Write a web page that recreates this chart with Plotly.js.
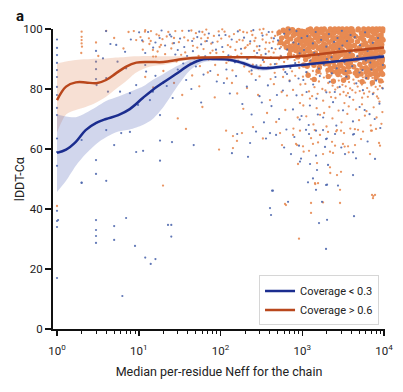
<!DOCTYPE html>
<html>
<head>
<meta charset="utf-8">
<script src="https://cdn.plot.ly/plotly-3.0.1.min.js"></script>
<style>html,body{margin:0;padding:0;background:#fff;}#chart{width:403px;height:392px;}</style>
</head>
<body>
<div id="chart"></div>
<script>
// ---- smoothed trend curves (Neff, lDDT-Ca) ----
const blueCurveNeff = [1, 1.29, 1.7, 2.24, 3.02, 3.98, 5.62, 7.76, 11.2, 14.8, 20, 28.2, 42.7, 61.7, 87.1, 132, 191, 251, 331, 437, 1122, 2884, 10000];
const blueCurveMean = [58.7, 59.8, 62.4, 66.3, 68.7, 70.0, 71.3, 73.3, 77.0, 79.7, 82.2, 84.9, 88.2, 89.9, 90.0, 89.7, 88.6, 87.4, 86.9, 87.1, 88.2, 89.3, 90.8];
const blueCurveLow  = [45.7, 49.4, 54.4, 58.3, 61.7, 63.9, 65.8, 66.5, 68.0, 70.0, 74.0, 80.0, 86.3, 88.9, 89.3, 89.1, 87.9, 86.6, 86.1, 86.5, 87.8, 89.0, 90.3];
const blueCurveHigh = [71.6, 70.8, 70.6, 72.0, 74.0, 76.0, 77.5, 79.0, 80.8, 83.0, 85.0, 87.4, 89.7, 90.6, 90.7, 90.3, 89.3, 88.2, 87.7, 87.7, 88.6, 89.6, 91.3];

const orangeCurveNeff = [1, 1.29, 1.7, 2.24, 3.02, 3.98, 5.25, 6.92, 9.33, 13.8, 20, 34.7, 61.7, 132, 251, 437, 1122, 2884, 10000];
const orangeCurveMean = [76.3, 80.8, 82.2, 82.2, 81.9, 83.0, 85.2, 87.4, 88.8, 89.0, 89.0, 90.0, 90.5, 90.6, 90.6, 90.4, 91.1, 92.4, 93.8];
const orangeCurveLow  = [65.5, 71.5, 73.0, 74.0, 75.5, 77.4, 80.0, 82.5, 85.5, 87.5, 88.0, 89.3, 90.0, 90.2, 90.3, 90.1, 90.8, 92.1, 93.3];
const orangeCurveHigh = [88.5, 89.2, 89.7, 89.9, 90.1, 90.2, 90.5, 90.7, 90.9, 91.0, 90.9, 90.9, 91.0, 91.0, 90.9, 90.7, 91.4, 92.7, 94.3];

// ---- scatter: dense core of coverage > 0.6 chains (Neff, lDDT) ----
const orangeCorePoints = [
[520,98.8],[560,97.0],[585,99.6],[610,99.2],[640,97.5],[655,95.8],[690,98.9],[700,94.2],[720,96.7],[735,99.6],[760,93.5],[780,97.9],[800,95.1],[815,99.0],[830,92.8],[850,96.3],[870,98.4],[880,94.0],[900,99.5],[915,91.9],[930,97.1],[950,95.6],[965,93.2],[980,98.7],[990,96.0],[640,93.8],[700,91.5],[760,99.8],[820,94.6],[880,90.7],[940,92.4],[990,99.3],[720,92.9],[600,95.0],[670,100],[540,95.5],
[1010,97.6],[1030,94.3],[1050,99.1],[1060,91.2],[1080,96.5],[1100,89.8],[1120,98.2],[1140,93.1],[1160,95.7],[1180,99.7],[1200,90.9],[1210,97.3],[1230,92.4],[1250,94.8],[1270,99.0],[1290,88.9],[1300,96.2],[1320,91.7],[1340,98.5],[1360,93.9],[1380,95.3],[1400,90.3],[1420,97.8],[1440,99.4],[1450,92.0],[1470,94.4],[1490,89.5],[1510,96.9],[1530,98.1],[1550,91.1],[1570,93.6],[1590,95.9],[1610,99.2],[1630,88.6],[1650,97.0],[1670,90.6],[1690,94.1],[1710,92.8],[1730,98.8],[1750,96.4],[1770,89.9],[1790,93.3],[1810,99.6],[1830,95.0],[1850,91.4],[1870,97.5],[1890,88.4],[1910,94.7],[1930,92.2],[1950,98.0],[1970,96.6],[1990,90.1],[1040,88.0],[1150,87.6],[1260,100],[1390,87.9],[1500,100],[1620,87.2],[1740,91.9],[1860,100],[1105,95.0],[1225,96.0],[1330,89.2],[1455,97.2],[1580,90.0],[1705,99.9],[1820,89.0],[1960,93.8],[1075,92.6],[1190,93.5],
[2010,97.4],[2040,93.2],[2070,99.1],[2100,88.3],[2130,95.6],[2160,91.0],[2190,97.9],[2220,86.9],[2250,94.1],[2280,99.6],[2310,90.4],[2340,96.3],[2370,92.7],[2400,88.9],[2430,98.6],[2460,94.9],[2490,87.5],[2520,91.8],[2550,96.8],[2580,99.3],[2610,89.6],[2640,93.7],[2670,97.1],[2700,86.5],[2730,95.2],[2760,90.8],[2790,98.9],[2820,92.3],[2850,88.1],[2880,96.0],[2910,99.8],[2940,94.4],[2970,87.8],[3000,91.5],[3040,97.7],[3080,93.0],[3120,89.3],[3160,95.8],[3200,99.0],[3240,86.8],[3280,92.0],[3320,97.3],[3360,90.2],[3400,94.6],[3440,98.3],[3480,88.6],[3520,96.5],[3560,91.3],[3600,99.5],[3640,93.9],[3680,87.3],[3720,95.4],[3760,90.0],[3800,97.6],[3840,92.5],[3880,88.7],[3920,98.8],[3960,94.2],[2060,86.3],[2200,100],[2350,85.8],[2500,100],[2650,85.5],[2800,100],[2950,85.9],[3100,100],[3300,85.4],[3500,100],[3700,85.7],[3900,100],[2120,92.1],[2330,94.0],[2560,90.7],[2770,93.5],[3020,96.9],[3260,95.1],[3460,90.9],[3660,96.2],[3860,89.5],[2420,97.0],[3140,98.1],
[4020,96.1],[4100,91.2],[4180,99.2],[4260,87.4],[4340,94.5],[4420,89.7],[4500,97.5],[4580,92.9],[4660,86.2],[4740,95.8],[4820,99.7],[4900,90.6],[4980,93.8],[5060,88.2],[5140,97.0],[5220,91.9],[5300,98.6],[5380,86.9],[5460,94.7],[5540,90.3],[5620,96.4],[5700,99.1],[5780,88.8],[5860,92.6],[5940,95.3],[6020,87.1],[6100,98.2],[6180,91.6],[6260,94.1],[6340,89.4],[6420,97.8],[6500,86.4],[6580,93.3],[6660,99.5],[6740,90.9],[6820,95.9],[6900,88.0],[6980,92.2],[7060,97.2],[7140,86.7],[7220,94.9],[7300,99.0],[7380,89.1],[7460,91.5],[7540,96.7],[7620,87.8],[7700,93.6],[7780,98.4],[7860,90.4],[7940,95.0],[8020,86.1],[8100,92.8],[8180,99.4],[8260,88.5],[8340,96.0],[8420,91.0],[8500,94.3],[8580,97.4],[8660,87.0],[8740,89.9],[8820,99.8],[8900,93.1],[8980,95.6],[9060,86.6],[9140,91.8],[9220,98.0],[9300,88.3],[9380,94.8],[9460,96.8],[9540,90.1],[9620,99.3],[9700,92.4],[9780,87.5],[4050,100],[4450,85.3],[4850,100],[5250,85.0],[5650,100],[6050,85.6],[6450,100],[6850,84.9],[7250,100],[7650,85.2],[8050,100],[8450,84.7],[8850,100],[9250,85.4],[9650,100],[4300,97.9],[4700,90.0],[5100,93.0],[5500,98.0],[5900,91.0],[6300,99.0],[6700,93.9],[7100,89.6],[7500,98.8],[7900,92.0],[8300,93.7],[8700,97.8],[9100,95.3],[9500,89.4],[9750,96.3],
[1180,84.6],[1560,85.9],[2080,84.2],[2740,84.8],[3580,83.9],[4700,84.5],[6200,84.0],[8000,83.8],[9600,84.9],[1400,83.2],[2400,82.6],[3200,82.9],[5400,82.4],[7200,82.1],[9100,82.7]
];

// ---- scatter: remaining coverage > 0.6 chains ----
const orangePoints = [
[2,99.1],[2,97.4],[2,96.3],[2,95.2],[2.02,94.1],[1.98,92.0],[1,41],[3,95.5],[3.2,91.0],[4,99.4],[5,97.0],[6.5,93.5],[7.5,99.0],[8.7,99.3],[9.3,96.3],
[10.5,97.3],[11.2,93.1],[12,99.6],[13.5,95.0],[15,90.8],[16.5,98.2],[18,94.0],[19.5,96.6],[21,91.6],[23,99.0],[25,93.5],[27,97.0],[29,89.2],[31,95.6],[34,99.4],[37,92.2],[40,96.2],[43,88.5],[46,94.4],[50,98.6],[54,91.0],[58,96.9],[62,93.3],[67,99.8],[72,89.8],[77,95.1],[83,97.7],[89,92.0],[95,99.2],[14,96.0],[22,97.5],[28,99.3],[36,97.2],[44,99.5],[52,93.8],[60,99.0],[70,97.0],[80,92.8],[92,95.8],[99,90.4],[17,92.5],[26,95.2],[33,91.4],[48,90.2],[56,87.6],[65,95.9],[75,92.0],[86,88.0],[47,96.8],[64,98.1],[11.3,95.8],[11.9,99.1],[13.3,96.9],[14.1,99.3],[14.9,93.0],[16.2,90.8],[17.7,97.8],[18.7,94.7],
[12,84.0],[15,80.5],[20,86.0],[27,82.0],[34,78.0],[45,84.5],[55,80.9],[70,85.5],[85,77.2],[30,70.2],[60,74.0],[37.8,66.7],[117,66.1],[142,64.3],[183,65.3],[159,62.7],[96,59.8],[19.8,47.8],
[102,96.8],[108,92.4],[112,99.1],[118,88.7],[123,94.6],[128,97.5],[134,90.9],[140,86.2],[146,98.3],[152,93.0],[158,95.7],[165,89.4],[172,99.6],[180,91.8],[187,96.2],[195,87.5],[203,93.9],[211,98.8],[220,90.2],[229,95.1],[238,99.3],[248,88.1],[258,92.7],[268,97.0],[279,94.2],[290,86.8],[302,99.8],[314,91.3],[327,96.5],[340,89.0],[353,93.4],[367,98.1],[382,87.2],[397,95.4],[413,90.6],[430,99.0],[447,92.1],[465,97.7],[484,88.4],[503,94.9],[523,99.5],[544,91.0],[566,96.0],[589,86.5],[612,93.7],[637,98.5],[662,90.0],[689,95.3],[716,87.7],[745,92.8],[775,97.3],[806,89.6],[838,94.4],[872,99.2],[907,88.9],[943,96.6],[981,91.6],
[105,99.9],[132,94.0],[161,91.0],[190,99.0],[225,85.8],[260,96.0],[298,93.0],[335,100],[375,90.3],[420,97.0],[460,85.4],[500,98.0],[550,94.0],[600,89.0],[650,100],[700,91.5],[750,85.9],[800,99.0],[860,93.2],[920,87.0],[970,97.5],
[125,89.5],[170,96.4],[215,94.6],[265,90.8],[320,98.6],[390,92.5],[440,95.8],[520,89.9],[580,99.7],[625,95.6],[680,97.9],[730,94.8],[790,91.4],[850,96.9],[900,98.2],[960,94.7],[555,97.2],[470,93.3],[410,88.2],[360,95.5],[310,87.9],[245,98.0],[198,93.6],[150,90.5],
[93,84.7],[138,82],[211,80.3],[288,78],[403,76.3],[582,84],[771,79.7],[938,75.3],[371,72],[250,67.3],[535,65.3],[863,61.3],[142,60.3],[120,83.5],[160,78.5],[300,84.2],[450,81.6],[650,77.8],[700,82.9],[880,70.5],[480,69.0],[190,73.4],[620,73.0],[950,81.5],[330,63.5],[780,66.8],[560,79.0],[240,85.0],[410,83.3],[820,84.4],[1000,78.0],
[1020,84.1],[1090,81.7],[1150,85.5],[1210,79.2],[1280,83.3],[1350,86.0],[1410,80.6],[1480,84.8],[1540,78.4],[1600,82.5],[1680,85.1],[1760,80.0],[1840,83.8],[1920,79.5],[2000,85.3],[2080,82.0],[2170,78.9],[2260,84.5],[2350,81.1],[2440,83.0],[2530,79.8],[2620,85.0],[2710,80.5],[2800,82.8],[2900,78.2],[3000,84.2],[3100,81.4],[3200,79.0],[3300,83.6],[3400,80.9],[3510,84.9],[3620,78.6],[3730,82.3],[3850,80.2],[3970,85.4],[4090,79.6],[4220,83.1],[4350,81.8],[4480,78.8],[4620,84.4],[4760,80.8],[4900,82.7],[5050,79.3],[5200,85.6],[5360,81.5],[5520,83.9],[5690,78.5],[5860,82.1],[6040,84.7],[6220,80.3],[6410,83.4],[6600,79.1],[6800,85.2],[7000,81.2],[7220,83.7],[7440,78.7],[7660,82.9],[7900,80.7],[8140,84.6],[8380,79.9],[8640,83.2],[8900,81.0],[9170,85.8],[9450,80.4],[9730,82.4],[1320,77.6],[2250,77.3],[3450,77.8],[5400,77.1],[8200,77.5],
[1030,74.5],[1120,70.9],[1240,76.8],[1370,68.2],[1500,73.6],[1650,71.4],[1800,76.1],[1980,67.5],[2150,74.0],[2340,70.2],[2550,77.0],[2780,72.8],[3020,68.9],[3280,75.3],[3560,71.7],[3870,66.8],[4200,76.4],[4560,73.2],[4950,69.6],[5380,74.9],[5840,71.1],[6340,77.4],[6880,67.9],[7470,73.9],[8110,70.5],[8800,75.8],[9550,72.3],[1420,66.3],[2600,65.9],[4400,66.6],[7100,66.1],[9300,68.4],[1850,72.0],[3700,74.2],[6100,72.6],[8500,76.9],
[771,64.7],[938,66.1],[1648,64.7],[2066,65.7],[2661,66.3],[2978,66.1],[3243,65.3],[4811,66.4],[5537,65.8],[6934,66.1],[7982,66.7],[565,61.3],[839,61.7],[1021,60.9],[1280,63.6],[1352,61.7],[1560,62.2],[2312,62.4],[2517,61.1],[3148,61.7],[3631,60.9],[4417,61.3],[5237,63.3],[8690,62],[8933,61.1],[1210,59.4],[1795,58.3],[2184,59.1],[2377,58.7],[3700,58.9],[6745,58.3],[887,55],[1515,55.3],[2184,53.9],[2200,52],[2978,52.4],[2661,51.3],[1432,48.6],[1560,48.6],[2897,46.4],[7130,44.7],[7762,44.7],[7330,43.6],[7400,44.3],[632,41.3],[1280,42],[2897,42],[1795,42.2],[1280,38.7],[615,41.7],[912,30.1],[1440,48.3],[1040,59.1],[3300,60.8]
];

// ---- scatter: coverage < 0.3 chains ----
const bluePoints = [
[1,93.7],[1,91.3],[1,88.7],[1,86.3],[1,84],[1,80.7],[1,78],[1,73.7],[1,71.3],[1,59],[1,54.4],[1,39.4],[1,36],[1,34],[1,17],[1,96.5],[1,63.5],[1.03,36.3],
[3,92.7],[3,89.1],[3,86.6],[3,83.3],[3.05,81.3],[3.98,99.3],[3.65,90.2],[4,83.6],[4.2,79.1],[5.3,94.7],[5.5,89.1],[5.9,79.1],[6.8,92.4],[7,86.9],[7.8,78.6],[10.1,98.9],[9.3,81.3],[9.8,74.7],[12.3,85.8],[14.9,79.1],[18.2,71.3],[13.7,76.3],
[4,66.3],[6.1,65.3],[7.8,65.7],[2,63],[5,61.3],[9.3,59],[11.3,59.4],[18.2,62.8],[18.2,56.1],[3,56.3],[3,51.7],[4,49.4],[2,48.7],[3,36.3],[7,37],[5,34.3],
[3,33],[3,31],[3,28.7],[5,29.7],[6.3,11],[9,27.7],[12,23.8],[14,21.7],[16,23.3],[25,34.7],[25,30.8],[2,48.8],
[4.5,95.0],[8,96.5],[12,92.0],[16,95.5],[20,89.0],[25,97.5],[30,93.0],[35,88.5],[45,96.0],
[11,96.2],[13,99.0],[15,93.8],[18,97.0],[21,94.5],[24,98.1],[28,91.5],[32,96.8],[36,94.0],[41,99.4],[46,92.6],[52,97.3],[58,94.9],[65,90.9],[72,98.5],[80,95.5],[88,93.1],[96,97.9],[19,99.5],[27,95.3],[39,91.0],[55,99.1],[68,96.0],[84,90.2],
[12,88.0],[16,84.4],[22,81.0],[30,86.5],[38,83.0],[50,87.5],[62,84.8],[75,86.0],[90,82.5],[26,77.0],[44,80.0],[58,75.5],[25.5,62.3],[47,61.3],[138,58.6],[217,57.4],[272,65.8],[403,65.3],[427,46.1],[403,40.3],[415,38],[22.8,34.7],
[105,94.0],[115,98.0],[125,91.2],[137,96.5],[150,88.9],[163,99.2],[178,93.4],[194,97.1],[212,90.0],[231,95.9],[252,99.6],[275,87.9],[300,94.3],[327,97.8],[357,91.7],[389,99.0],[424,93.6],[463,88.3],[505,96.2],[551,90.8],[601,98.4],[655,93.1],[715,87.0],[780,95.5],[850,99.3],[928,91.9],[118,86.5],[172,90.7],[240,86.2],[330,89.7],[450,96.9],[620,85.6],[820,88.6],[980,97.0],[280,92.0],[530,93.5],[700,99.8],[900,95.0],
[110,82.0],[130,78.5],[155,84.3],[185,75.0],[210,80.8],[240,71.5],[270,83.0],[300,77.6],[340,68.9],[380,81.2],[420,74.3],[470,84.0],[520,70.0],[580,79.5],[640,66.5],[700,82.6],[770,73.2],[850,77.9],[930,69.8],[160,65.0],[230,62.0],[360,63.5],[600,60.5],[800,64.0],[320,75.5],[490,78.0],[650,85.0],[900,83.5],[980,71.0],
[1050,93.0],[1150,97.6],[1250,89.5],[1350,95.2],[1460,99.0],[1580,91.3],[1700,96.4],[1830,88.2],[1970,94.1],[2120,98.3],[2280,90.6],[2450,95.7],[2640,86.9],[2840,93.4],[3050,99.4],[3280,89.0],[3530,96.0],[3800,92.2],[4080,87.6],[4390,97.3],[4720,90.9],[5080,94.6],[5460,86.3],[5870,98.9],[6310,92.7],[6790,88.8],[7300,95.4],[7850,90.2],[8440,97.0],[9080,93.8],[9700,88.0],[1120,85.6],[1600,86.8],[2300,85.2],[3400,86.0],[5000,85.5],[7000,86.5],[1400,92.0],[2000,90.0],[2700,97.0],[3900,98.0],[6000,89.5],[8800,91.0],[4500,93.0],[3100,94.5],
[1030,83.0],[1130,79.0],[1240,74.5],[1360,81.5],[1490,76.8],[1640,84.3],[1800,70.5],[1970,78.9],[2170,82.4],[2380,75.6],[2610,67.8],[2870,80.7],[3150,72.9],[3460,84.1],[3800,77.3],[4170,69.2],[4580,81.9],[5030,74.0],[5520,79.6],[6060,83.6],[6650,71.6],[7300,78.3],[8010,82.8],[8790,75.1],[9650,80.2],[1200,68.0],[2000,63.5],[3000,60.5],[4300,65.0],[6300,62.5],[9000,67.0],[1550,71.5],[5800,73.0],[2500,79.0],[7700,70.0],
[478,64.7],[1112,66.4],[1210,65],[1473,66.1],[1795,66.3],[2517,65],[4178,64.8],[912,61.1],[1953,63.3],[1897,60.7],[4178,58.9],[728,58.3],[1473,57.8],[3334,58.3],[4545,56.9],[966,56.8],[938,55.8],[1245,55],[2066,54.7],[1515,53],[7762,56.7],[4178,51.3],[1352,50.2],[1175,48.9],[1953,48],[2735,47.8],[1473,46.4],[438,46.1],[670,42.4],[1745,42.4],[4295,37.6],[2010,36.4],[1603,35.3],[2010,48.1],[1953,26.7]
];

// ---- axis ticks / labels ----
const xTickVals = [1, 10, 100, 1000, 10000];
const xTickText = ['10<sup>0</sup>', '10<sup>1</sup>', '10<sup>2</sup>', '10<sup>3</sup>', '10<sup>4</sup>'];
const yTickVals = [0, 20, 40, 60, 80, 100];
const seriesNames = ['Coverage < 0.3', 'Coverage > 0.6'];

const minorVals = [];
[1, 10, 100, 1000].forEach(d => { for (let k = 2; k <= 9; k++) minorVals.push(k * d); });

const BLUE_LINE = '#1b2d8f', ORANGE_LINE = '#b9471c';
const BLUE_DOT = '#4f68ae', ORANGE_DOT = '#e78a52';

function band(xs, lo, hi, color) {
  return {
    x: xs.concat(xs.slice().reverse()),
    y: lo.concat(hi.slice().reverse()),
    type: 'scatter', mode: 'lines', fill: 'toself', fillcolor: color,
    line: {width: 0, shape: 'spline', smoothing: 0.8, color: 'rgba(0,0,0,0)'},
    hoverinfo: 'skip', showlegend: false
  };
}

const data = [
  {x: orangePoints.map(p => p[0]), y: orangePoints.map(p => p[1]), type: 'scatter', mode: 'markers',
   marker: {size: 2.3, color: ORANGE_DOT, opacity: 0.9}, showlegend: false, cliponaxis: false},
  {x: orangeCorePoints.map(p => p[0]), y: orangeCorePoints.map(p => p[1]), type: 'scatter', mode: 'markers',
   marker: {size: 5.4, color: ORANGE_DOT}, showlegend: false, cliponaxis: false},
  {x: bluePoints.map(p => p[0]), y: bluePoints.map(p => p[1]), type: 'scatter', mode: 'markers',
   marker: {size: 2.2, color: BLUE_DOT, opacity: 0.9}, showlegend: false, cliponaxis: false},
  band(orangeCurveNeff, orangeCurveLow, orangeCurveHigh, 'rgba(225,145,100,0.28)'),
  band(blueCurveNeff, blueCurveLow, blueCurveHigh, 'rgba(85,105,185,0.27)'),
  {x: blueCurveNeff, y: blueCurveMean, type: 'scatter', mode: 'lines', name: seriesNames[0],
   line: {color: BLUE_LINE, width: 2.5, shape: 'spline', smoothing: 1}},
  {x: orangeCurveNeff, y: orangeCurveMean, type: 'scatter', mode: 'lines', name: seriesNames[1],
   line: {color: ORANGE_LINE, width: 2.5, shape: 'spline', smoothing: 1}}
];

const layout = {
  width: 403, height: 392,
  margin: {l: 53, r: 18, t: 29, b: 63},
  paper_bgcolor: '#fff', plot_bgcolor: '#fff',
  font: {family: 'Roboto, "Liberation Sans", Arial, sans-serif', size: 11, color: '#222'},
  showlegend: true,
  xaxis: {
    type: 'log', range: [-0.049, 4.012], showgrid: false, zeroline: false,
    showline: true, linecolor: '#111', linewidth: 2,
    ticks: 'outside', ticklen: 5, tickwidth: 1.5, tickcolor: '#111', ticklabelstandoff: 5,
    tickmode: 'array', tickvals: xTickVals, ticktext: xTickText, tickfont: {size: 11.5},
    minor: {ticks: 'outside', ticklen: 3, tickwidth: 1, tickcolor: '#111', tickmode: 'array', tickvals: minorVals, showgrid: false},
    title: {text: 'Median per-residue Neff for the chain', font: {size: 12.5}, standoff: 10}
  },
  yaxis: {
    range: [0, 100], showgrid: false, zeroline: false,
    showline: true, linecolor: '#111', linewidth: 2,
    ticks: 'outside', ticklen: 6, tickwidth: 1.5, tickcolor: '#111',
    tickmode: 'array', tickvals: yTickVals, tickfont: {size: 11.5},
    title: {text: ''}
  },
  legend: {x: 0.982, y: 0.012, xanchor: 'right', yanchor: 'bottom', bgcolor: '#fff',
           bordercolor: '#d6d6d6', borderwidth: 1, font: {size: 11}, tracegroupgap: 0},
  annotations: [
    {text: '<b>a</b>', xref: 'paper', yref: 'paper', x: -0.118, y: 1.043,
     xanchor: 'left', yanchor: 'middle', showarrow: false, font: {size: 15, color: '#111'}},
    {text: 'lDDT-Cα', xref: 'paper', yref: 'paper', x: -0.102, y: 0.5, textangle: -90,
     xanchor: 'center', yanchor: 'middle', showarrow: false, font: {size: 12.5, color: '#222'}}
  ]
};

Plotly.newPlot('chart', data, layout, {staticPlot: true, displayModeBar: false});
</script>
</body>
</html>
